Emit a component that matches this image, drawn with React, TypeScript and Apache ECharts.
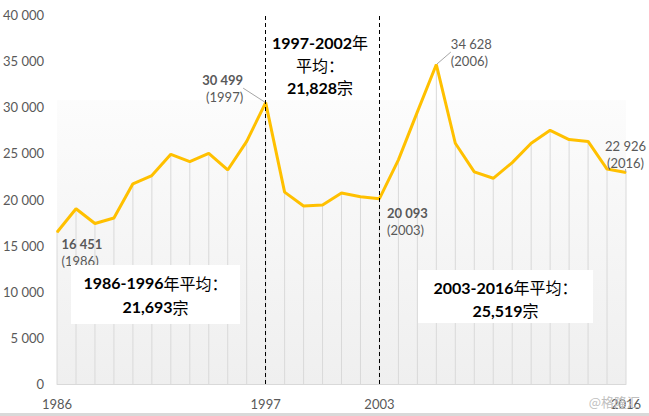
import React, { useEffect, useRef } from "react";
import * as echarts from "echarts";

const years = [
  "1986", "1987", "1988", "1989", "1990", "1991", "1992", "1993", "1994", "1995",
  "1996", "1997", "1998", "1999", "2000", "2001", "2002", "2003", "2004", "2005",
  "2006", "2007", "2008", "2009", "2010", "2011", "2012", "2013", "2014", "2015", "2016",
];
const cases = [
  16451, 19000, 17400, 18000, 21700, 22600, 24900, 24100, 25000, 23200,
  26300, 30499, 20800, 19300, 19400, 20700, 20300, 20093, 24300, 29500,
  34628, 26100, 23000, 22300, 24000, 26100, 27500, 26500, 26300, 23300, 22926,
];
const shownYears = ["1986", "1997", "2003", "2016"];
const dividerYears = ["1997", "2003"];
const labelledYears = ["1986", "1997", "2003", "2006", "2016"];
const yTicks = { min: 0, max: 40000, interval: 5000 };

const fmt = (v: number) => String(v).replace(/\B(?=(\d{3})+(?!\d))/g, " ");

const labelStyle: Record<string, any> = {
  "1986": { position: [5, 4], align: "left", bold: true, line: false },
  "1997": { position: [-22, -31], align: "right", bold: true, line: true },
  "2003": { position: [8, 6], align: "left", bold: true, line: false },
  "2006": { position: [15, -29], align: "left", bold: false, line: true },
  "2016": { position: [0, -35], align: "center", bold: false, line: true },
};

export default function App() {
  const ref = useRef<HTMLDivElement>(null);
  useEffect(() => {
    if (!ref.current) return;
    const chart = echarts.init(ref.current, null, { renderer: "svg" });
    const latin = "Lato, 'Noto Sans CJK SC', sans-serif";
    const cjk = "'Noto Sans CJK SC', Lato, sans-serif";

    const lineData = cases.map((v, i) => {
      const y = years[i];
      if (!labelledYears.includes(y)) return v;
      const s = labelStyle[y];
      return {
        value: v,
        label: {
          show: true,
          position: s.position,
          align: s.align,
          verticalAlign: "top",
          formatter: `{n|${fmt(v)}}\n{y|(${y})}`,
          rich: {
            n: {
              fontFamily: latin,
              fontSize: 13,
              fontWeight: s.bold ? "bold" : "normal",
              color: "#595959",
              lineHeight: 17,
              align: s.align,
            },
            y: {
              fontFamily: latin,
              fontSize: 13,
              color: "#595959",
              lineHeight: 17,
              align: s.align,
            },
          },
        },
        labelLine: s.line
          ? { show: true, lineStyle: { color: "#a6a6a6", width: 1 } }
          : { show: false },
      };
    });

    const boxRich = {
      b: { fontFamily: latin, fontSize: 16, fontWeight: "bold", color: "#000", lineHeight: 24 },
      c: { fontFamily: cjk, fontSize: 16, fontWeight: "normal", color: "#000", lineHeight: 24 },
    };
    const boxRich2 = {
      b: { ...boxRich.b, lineHeight: 22.5 },
      c: { ...boxRich.c, lineHeight: 22.5 },
    };

    chart.setOption({
      animation: false,
      backgroundColor: "#ffffff",
      grid: {
        left: 55,
        right: 23,
        top: 15,
        bottom: 32,
        show: true,
        borderWidth: 0,
        backgroundColor: new echarts.graphic.LinearGradient(0, 0, 0, 1, [
          { offset: 0, color: "#ffffff" },
          { offset: 0.229, color: "#ffffff" },
          { offset: 0.232, color: "#fcfcfc" },
          { offset: 1, color: "#efefef" },
        ]),
      },
      xAxis: {
        type: "category",
        data: years,
        boundaryGap: false,
        axisLine: { lineStyle: { color: "#d9d9d9", width: 1 } },
        axisTick: { show: false },
        splitLine: { show: false },
        axisLabel: {
          interval: (_i: number, v: string) => shownYears.includes(v),
          color: "#595959",
          fontFamily: latin,
          fontSize: 13,
          margin: 13,
        },
      },
      yAxis: {
        type: "value",
        min: yTicks.min,
        max: yTicks.max,
        interval: yTicks.interval,
        axisLine: { show: false },
        axisTick: { show: false },
        splitLine: { show: false },
        axisLabel: {
          color: "#595959",
          fontFamily: latin,
          fontSize: 13,
          margin: 13,
          formatter: (v: number) => fmt(v),
        },
      },
      series: [
        {
          type: "bar",
          data: cases,
          barWidth: 1,
          itemStyle: { color: "#d9d9d9" },
          z: 1,
          silent: true,
        },
        {
          type: "line",
          data: lineData,
          z: 3,
          symbol: "circle",
          symbolSize: 1,
          showSymbol: true,
          itemStyle: { color: "#FFC000" },
          lineStyle: { color: "#FFC000", width: 3 },
          markLine: {
            silent: true,
            symbol: ["none", "none"],
            label: { show: false },
            lineStyle: { color: "#000000", type: [4, 3], width: 1 },
            data: dividerYears.map((y) => ({ xAxis: y })),
          },
        },
      ],
      graphic: [
        {
          type: "rect",
          shape: { x: 71, y: 265, width: 169, height: 59 },
          style: { fill: "#ffffff" },
          z: 10,
        },
        {
          type: "text",
          x: 155.5,
          y: 294.5,
          z: 11,
          style: {
            text: "{b|1986-1996}{c|年平均：}\n{b|21,693}{c|宗}",
            rich: boxRich,
            align: "center",
            verticalAlign: "middle",
          },
        },
        {
          type: "rect",
          shape: { x: 418, y: 270, width: 175, height: 53 },
          style: { fill: "#ffffff" },
          z: 10,
        },
        {
          type: "text",
          x: 505.5,
          y: 298.5,
          z: 11,
          style: {
            text: "{b|2003-2016}{c|年平均：}\n{b|25,519}{c|宗}",
            rich: { b: { ...boxRich.b, lineHeight: 23 }, c: { ...boxRich.c, lineHeight: 23 } },
            align: "center",
            verticalAlign: "middle",
          },
        },
        {
          type: "text",
          x: 320,
          y: 64.5,
          z: 11,
          style: {
            text: "{b|1997-2002}{c|年}\n{c|平均：}\n{b|21,828}{c|宗}",
            rich: boxRich2,
            align: "center",
            verticalAlign: "middle",
          },
        },
        {
          type: "text",
          right: 9,
          top: 395,
          z: 11,
          style: {
            text: "@格隆汇",
            fill: "#bfbfbf",
            fontFamily: cjk,
            fontSize: 13,
          },
        },
        {
          type: "rect",
          shape: { x: 0, y: 413, width: 649, height: 3 },
          style: { fill: "#d9d9d9" },
          z: 10,
        },
      ],
    });
    return () => chart.dispose();
  }, []);
  return (
    <div
      ref={ref}
      style={{ position: "fixed", left: 0, top: 0, width: 649, height: 416 }}
    />
  );
}
